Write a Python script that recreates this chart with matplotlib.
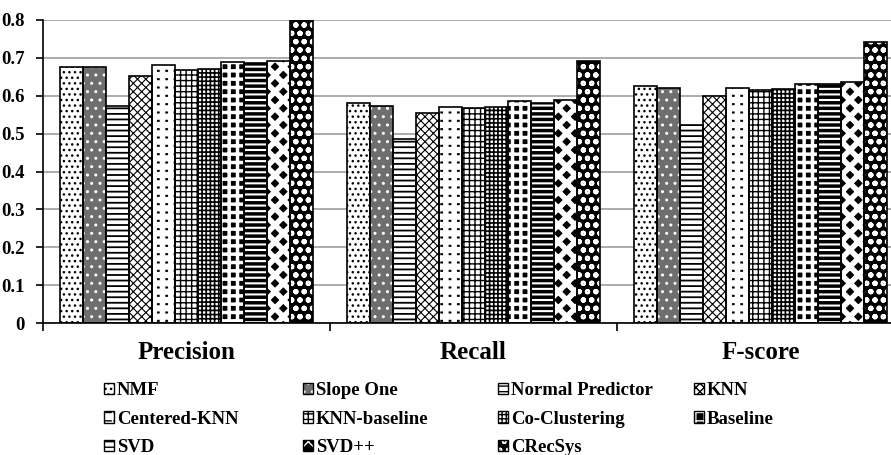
import matplotlib.pyplot as plt
import matplotlib as mpl
import matplotlib.patches as mpatches
import numpy as np

# text sizes
BIG = 18
MID = 13.5

metrics = ['Precision', 'Recall', 'F-score']
methods = ['NMF', 'Slope One', 'Normal Predictor', 'KNN', 'Centered-KNN',
           'KNN-baseline', 'Co-Clustering', 'Baseline', 'SVD', 'SVD++', 'CRecSys']

precision = [0.677, 0.677, 0.573, 0.652, 0.680, 0.669, 0.671, 0.688, 0.687, 0.692, 0.799]
recall    = [0.580, 0.573, 0.485, 0.554, 0.571, 0.568, 0.571, 0.585, 0.582, 0.588, 0.692]
fscore    = [0.625, 0.621, 0.524, 0.600, 0.620, 0.615, 0.617, 0.632, 0.630, 0.636, 0.741]

yticks = [0, 0.1, 0.2, 0.3, 0.4, 0.5, 0.6, 0.7, 0.8]
ytick_labels = ['0', '0.1', '0.2', '0.3', '0.4', '0.5', '0.6', '0.7', '0.8']

# legend is filled row by row over four columns
legend_order = ['NMF', 'Slope One', 'Normal Predictor', 'KNN',
                'Centered-KNN', 'KNN-baseline', 'Co-Clustering', 'Baseline',
                'SVD', 'SVD++', 'CRecSys']

# fill layers for every method: (face colour, hatch, hatch colour, hatch linewidth)
fills = {
    'NMF':              [('white', '...', 'black', 1.0)],
    'Slope One':        [('#6e6e6e', '..', 'white', 1.0)],
    'Normal Predictor': [('white', '---', 'black', 1.3)],
    'KNN':              [('white', 'xxxx', 'black', 0.8)],
    'Centered-KNN':     [('white', '--', 'black', 1.5), ('none', '||', 'white', 4.0)],
    'KNN-baseline':     [('white', '+++', 'black', 1.0)],
    'Co-Clustering':    [('white', '++++', 'black', 1.2)],
    'Baseline':         [('black', '++', 'white', 2.5)],
    'SVD':              [('white', '---', 'black', 2.5)],
    'SVD++':            [('black', 'xx', 'white', 4.0)],
    'CRecSys':          [('black', 'oo', 'white', 1.5)],
}

mpl.rcParams['font.family'] = ['Liberation Serif', 'DejaVu Serif']
mpl.rcParams['font.weight'] = 'bold'


def layer_patch(face, hatch, hcol, hlw):
    p = mpatches.Patch(facecolor=face, edgecolor=hcol, hatch=hatch, linewidth=0)
    if hasattr(p, 'set_hatch_linewidth'):
        p.set_hatch_linewidth(hlw)
    return p


W, H = 891, 455
fig = plt.figure(figsize=(W / 100, H / 100), dpi=100)
ax = fig.add_axes([43 / W, 1 - 323 / H, (904 - 43) / W, (323 - 20) / H])

values = np.array([precision, recall, fscore])   # metric x method
width = 0.0801
groups = np.arange(len(metrics))

for j, m in enumerate(methods):
    xs = groups + 0.5 + (j - 5) * width
    for face, hatch, hcol, hlw in fills[m]:
        with mpl.rc_context({'hatch.linewidth': hlw}):
            bars = ax.bar(xs, values[:, j], width, color=face, edgecolor=hcol,
                          hatch=hatch, linewidth=0, zorder=2)
        for b in bars:
            if hasattr(b, 'set_hatch_linewidth'):
                b.set_hatch_linewidth(hlw)
    # outline on top of the fills
    ax.bar(xs, values[:, j], width, fill=False, edgecolor='black',
           linewidth=1.2, zorder=3)

# axes formatting
ax.set_xlim(0, 3)
ax.set_ylim(0, 0.8)
ax.set_yticks(yticks)
ax.set_yticklabels(ytick_labels)
ax.set_xticks([0, 1, 2, 3])
ax.set_xticklabels([])
ax.set_xticks(groups + 0.5, minor=True)
ax.set_xticklabels(metrics, minor=True)
ax.tick_params(axis='x', which='major', direction='out', length=6, width=1.2)
ax.tick_params(axis='x', which='minor', length=0, pad=13, labelsize=BIG)
ax.tick_params(axis='y', direction='out', length=5, width=1.2, pad=8, labelsize=MID)
for s in ['top', 'right']:
    ax.spines[s].set_visible(False)
for s in ['left', 'bottom']:
    ax.spines[s].set_linewidth(1.2)
    ax.spines[s].set_zorder(4)
ax.yaxis.grid(True, color='#a6a6a6', linewidth=1.3)
ax.set_axisbelow(True)

# legend: one fig.legend per column so the columns sit at fixed positions
col_x = [104, 303, 498, 694]
legend_top = 382
for c, x in enumerate(col_x):
    names = legend_order[c::4]
    handles = []
    for n in names:
        parts = [layer_patch(*f) for f in fills[n]]
        parts.append(mpatches.Patch(fill=False, edgecolor='black', linewidth=1.0))
        handles.append(tuple(parts))
    fig.legend(handles, names, loc='upper left',
               bbox_to_anchor=(x / W, 1 - legend_top / H),
               frameon=False, borderpad=0, borderaxespad=0,
               handlelength=0.55, handleheight=0.55, handletextpad=0.15,
               labelspacing=0.62, prop={'size': MID, 'weight': 'bold'})

plt.savefig('out.png', dpi=100, facecolor='w')
